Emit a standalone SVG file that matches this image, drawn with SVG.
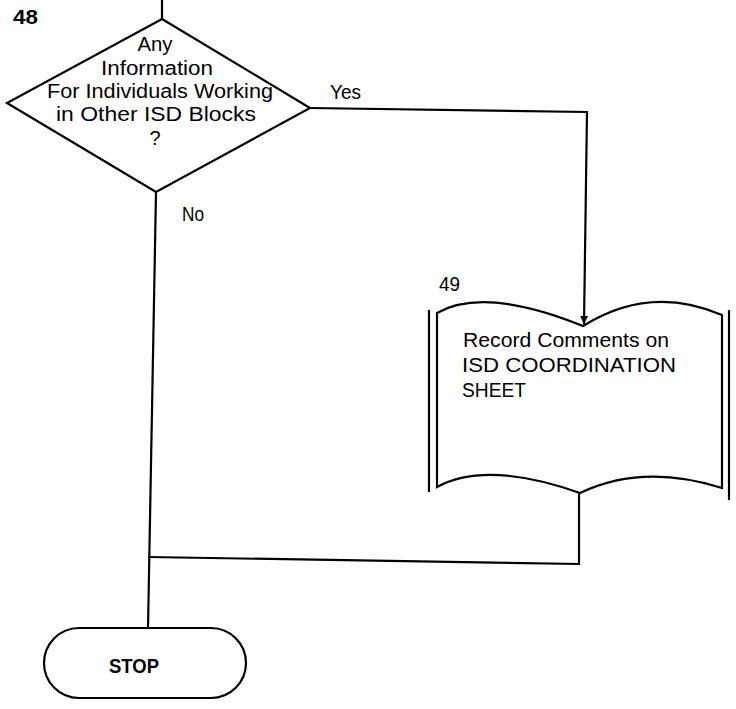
<svg xmlns="http://www.w3.org/2000/svg" width="736" height="709" viewBox="0 0 736 709">
<style>
.ln{fill:none;stroke:#000;stroke-width:2.2;stroke-linejoin:miter}
.sh{fill:#fff;stroke:#000;stroke-width:2.2}
.t{font-family:"Liberation Sans",Arial,sans-serif;font-size:20px;fill:#000}
.b{font-weight:bold}
</style>
<defs>
<marker id="ah" markerWidth="10" markerHeight="10" refX="8" refY="5" orient="auto" markerUnits="userSpaceOnUse">
<path d="M0,1 L8,5 L0,9 Z" fill="#000"/>
</marker>
</defs>
<rect width="736" height="709" fill="#fff"/>
<g id="connectors">
<polyline class="ln" points="162,0 162,19"/>
<polyline class="ln" points="310,108 587,112 584,324" marker-end="url(#ah)"/>
<polyline class="ln" points="156,192 148,628"/>
<polyline class="ln" points="579,493 579,564 148,557"/>
</g>
<g id="node48">
<polygon class="sh" points="162,19 310,108 156,192 7,103"/>
<text class="t b" x="13" y="24" textLength="25" lengthAdjust="spacingAndGlyphs">48</text>
<text class="t" x="155" y="51" text-anchor="middle" textLength="35" lengthAdjust="spacingAndGlyphs">Any</text>
<text class="t" x="157" y="75" text-anchor="middle" textLength="112" lengthAdjust="spacingAndGlyphs">Information</text>
<text class="t" x="160" y="98" text-anchor="middle" textLength="226" lengthAdjust="spacingAndGlyphs">For Individuals Working</text>
<text class="t" x="156" y="121" text-anchor="middle" textLength="200" lengthAdjust="spacingAndGlyphs">in Other ISD Blocks</text>
<text class="t" x="155" y="145" text-anchor="middle">?</text>
<text class="t" x="330" y="99" textLength="31" lengthAdjust="spacingAndGlyphs">Yes</text>
<text class="t" x="182" y="221" textLength="22" lengthAdjust="spacingAndGlyphs">No</text>
</g>
<g id="node49">
<line class="ln" x1="429" y1="310" x2="429" y2="492"/>
<line class="ln" x1="729" y1="310" x2="729" y2="500"/>
<path class="sh" d="M437,313 Q484,286 583,326 Q650,284 722,315 L722,488 Q643,463 580,493 Q486,460 437,487 Z"/>
<text class="t" x="439" y="291" textLength="21" lengthAdjust="spacingAndGlyphs">49</text>
<text class="t" x="463" y="347" textLength="206" lengthAdjust="spacingAndGlyphs">Record Comments on</text>
<text class="t" x="462" y="372" textLength="214" lengthAdjust="spacingAndGlyphs">ISD COORDINATION</text>
<text class="t" x="462" y="397" textLength="64" lengthAdjust="spacingAndGlyphs">SHEET</text>
</g>
<g id="stop">
<rect class="sh" x="44" y="628" width="202" height="70" rx="35" ry="35"/>
<text class="t b" x="134" y="673" text-anchor="middle" font-size="22" textLength="50" lengthAdjust="spacingAndGlyphs">STOP</text>
</g>
</svg>
